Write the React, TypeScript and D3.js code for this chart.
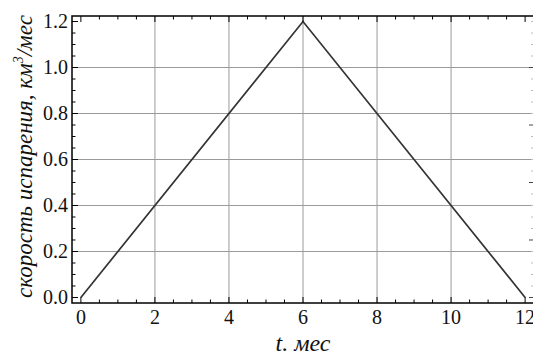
import React from "react";
import * as d3 from "d3";

// Evaporation rate over the year (months → km³/month)
const months = [0, 6, 12];
const rates = [0, 1.2, 0];

const xTicks = [0, 2, 4, 6, 8, 10, 12];
const yTicks = [0.0, 0.2, 0.4, 0.6, 0.8, 1.0, 1.2];
const xGrid = [2, 4, 6, 8, 10];
const yGrid = [0.2, 0.4, 0.6, 0.8, 1.0];

const xTitle = "t. мес";
const yTitleMain = "скорость испарения, км";
const yTitleSup = "3";
const yTitleTail = "/мес";

const W = 533;
const H = 358;

export default function App() {
  const left = 72;
  const right = 534;
  const top = 16;
  const bottom = 303;

  const x = d3.scaleLinear().domain([-0.24, 12.24]).range([left, right]);
  const y = d3.scaleLinear().domain([-0.024, 1.224]).range([bottom, top]);

  const line = d3
    .line<number>()
    .x((_, i) => x(months[i]))
    .y((d) => y(d));

  const xMinor = d3.range(0, 12.01, 0.5).filter((v) => v % 2 !== 0);
  const yMinor = d3.range(0, 1.2001, 0.05).filter((v) => Math.abs(v / 0.2 - Math.round(v / 0.2)) > 1e-6);
  const rightMajor = d3.range(0, 1.2001, 0.25);
  const rightMinor = yMinor.concat(yTicks).filter(
    (v) => Math.abs(v / 0.25 - Math.round(v / 0.25)) > 1e-6
  );
  const topTicks = d3.range(0, 12.01, 0.5);

  const serifStyle = { fontFamily: '"Liberation Serif", "DejaVu Serif", "Times New Roman", serif' };

  return (
    <div style={{ position: "absolute", left: 0, top: 0 }}>
      <svg width={W} height={H} style={{ display: "block", background: "#fff" }}>
        {/* grid */}
        <g stroke="#9a9a9a" strokeWidth={1}>
          {xGrid.map((v) => (
            <line key={"gx" + v} x1={x(v)} x2={x(v)} y1={top} y2={bottom} />
          ))}
          {yGrid.map((v) => (
            <line key={"gy" + v} x1={left} x2={right} y1={y(v)} y2={y(v)} />
          ))}
        </g>

        {/* data line */}
        <path d={line(rates) || ""} fill="none" stroke="#333" strokeWidth={1.7} />

        {/* ticks */}
        <g stroke="#000" strokeWidth={1}>
          {yTicks.map((v) => (
            <line key={"ly" + v} x1={left} x2={left + 6} y1={y(v)} y2={y(v)} />
          ))}
          {yMinor.map((v) => (
            <line key={"lym" + v} x1={left} x2={left + 3.5} y1={y(v)} y2={y(v)} />
          ))}
          {xTicks.map((v) => (
            <line key={"bx" + v} x1={x(v)} x2={x(v)} y1={bottom} y2={bottom - 6} />
          ))}
          {xMinor.map((v) => (
            <line key={"bxm" + v} x1={x(v)} x2={x(v)} y1={bottom} y2={bottom - 3.5} />
          ))}
          {topTicks.map((v) => (
            <line key={"tx" + v} x1={x(v)} x2={x(v)} y1={top} y2={top + (v % 2 === 0 ? 6 : 3.5)} />
          ))}
        </g>
        <g stroke="#444" strokeWidth={1}>
          {rightMajor.map((v) => (
            <line key={"ry" + v} x1={right} x2={right - 5} y1={y(v)} y2={y(v)} />
          ))}
        </g>
        <g stroke="#bbb" strokeWidth={1}>
          {rightMinor.map((v) => (
            <line key={"rym" + v} x1={right} x2={right - 3} y1={y(v)} y2={y(v)} />
          ))}
        </g>

        {/* frame */}
        <rect
          x={left}
          y={top}
          width={right - left}
          height={bottom - top}
          fill="none"
          stroke="#000"
          strokeWidth={1.5}
        />

        {/* tick labels */}
        <g style={serifStyle} fontSize={20} fill="#111">
          {yTicks.map((v) => (
            <text key={"yl" + v} x={left - 4} y={y(v)} dy="0.34em" textAnchor="end" style={serifStyle}>
              {v.toFixed(1)}
            </text>
          ))}
          {xTicks.map((v) => (
            <text key={"xl" + v} x={x(v)} y={bottom + 21} textAnchor="middle" style={serifStyle}>
              {v}
            </text>
          ))}
        </g>

        {/* axis titles */}
        <text
          x={(x(0) + x(12)) / 2}
          y={351}
          textAnchor="middle"
          style={serifStyle}
          fontStyle="italic"
          fontSize={24}
          fill="#111"
        >
          {xTitle}
        </text>
        <text
          transform={`translate(32, ${(top + bottom) / 2 - 3}) rotate(-90)`}
          textAnchor="middle"
          style={serifStyle}
          fontStyle="italic"
          fontSize={23}
          fill="#111"
        >
          {yTitleMain}
          <tspan dy={-9} fontSize={14}>
            {yTitleSup}
          </tspan>
          <tspan dy={9}>{yTitleTail}</tspan>
        </text>
      </svg>
    </div>
  );
}
